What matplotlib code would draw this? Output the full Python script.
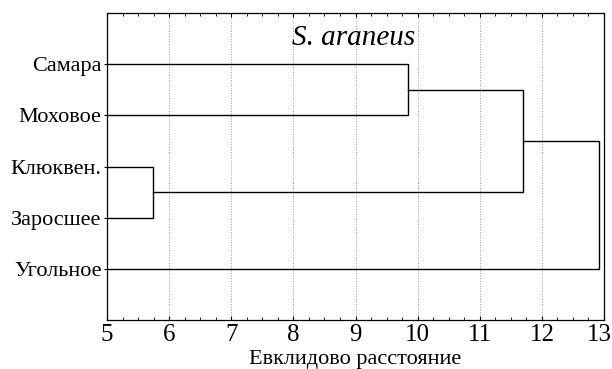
import matplotlib
matplotlib.use("Agg")
import matplotlib.pyplot as plt
from matplotlib.ticker import MultipleLocator
from matplotlib.transforms import ScaledTranslation

plt.rcParams['font.family'] = ['Liberation Serif', 'DejaVu Serif']

labels = ["Самара", "Моховое", "Клюквен.", "Заросшее", "Угольное"]
# merge heights (Euclidean distance)
merge_a = 9.85   # Самара + Моховое
merge_b = 5.74   # Клюквен. + Заросшее
merge_c = 11.70  # (Самара,Моховое) + (Клюквен.,Заросшее)
merge_d = 12.92  # all + Угольное
xticks = [5, 6, 7, 8, 9, 10, 11, 12, 13]
title = "S. araneus"
xlabel = "Евклидово расстояние"

fig = plt.figure(figsize=(6.12, 3.69), dpi=100)
ax = fig.add_axes([107/612, 1 - 320/369, (604-107)/612, (320-13)/369])

pos = {lab: i + 1 for i, lab in enumerate(labels)}
lw = 1.0
col = "black"
x0 = 5

def link(y1, x1, y2, x2, h):
    ax.plot([x1, h, h, x2], [y1, y1, y2, y2], color=col, lw=lw, solid_joinstyle='miter')

ya1, ya2 = pos["Самара"], pos["Моховое"]
link(ya1, x0, ya2, x0, merge_a)
ya = (ya1 + ya2) / 2
yb1, yb2 = pos["Клюквен."], pos["Заросшее"]
link(yb1, x0, yb2, x0, merge_b)
yb = (yb1 + yb2) / 2
link(ya, merge_a, yb, merge_b, merge_c)
yc = (ya + yb) / 2
yu = pos["Угольное"]
link(yc, merge_c, yu, x0, merge_d)

ax.set_xlim(5, 13)
ax.set_ylim(6, 0)
ax.set_yticks([pos[l] for l in labels])
ax.set_yticklabels(labels, fontsize=16)
ax.tick_params(axis='y', length=2, width=0.8, direction='out', pad=2)
ax.set_xticks(xticks)
ax.set_xticklabels([str(t) for t in xticks], fontsize=18)
ax.xaxis.set_minor_locator(MultipleLocator(0.25))
ax.tick_params(axis='x', which='major', direction='in', length=3, width=0.8, top=True, pad=3)
ax.tick_params(axis='x', which='minor', direction='in', length=2, width=0.6, top=True)
ax.grid(axis='x', which='major', linestyle=':', color='#999999', lw=0.7)
for s in ax.spines.values():
    s.set_linewidth(0.9)
ax.set_xlabel(xlabel, fontsize=16, labelpad=3)
ax.text(0.497, 0.918, title, transform=ax.transAxes, ha='center', va='center',
        fontsize=21, style='italic')

# nudge last tick label inward like the reference
last = ax.get_xticklabels()[-1]
last.set_transform(last.get_transform() + ScaledTranslation(-5/100, 0, fig.dpi_scale_trans))

fig.savefig("out.png", dpi=100)
